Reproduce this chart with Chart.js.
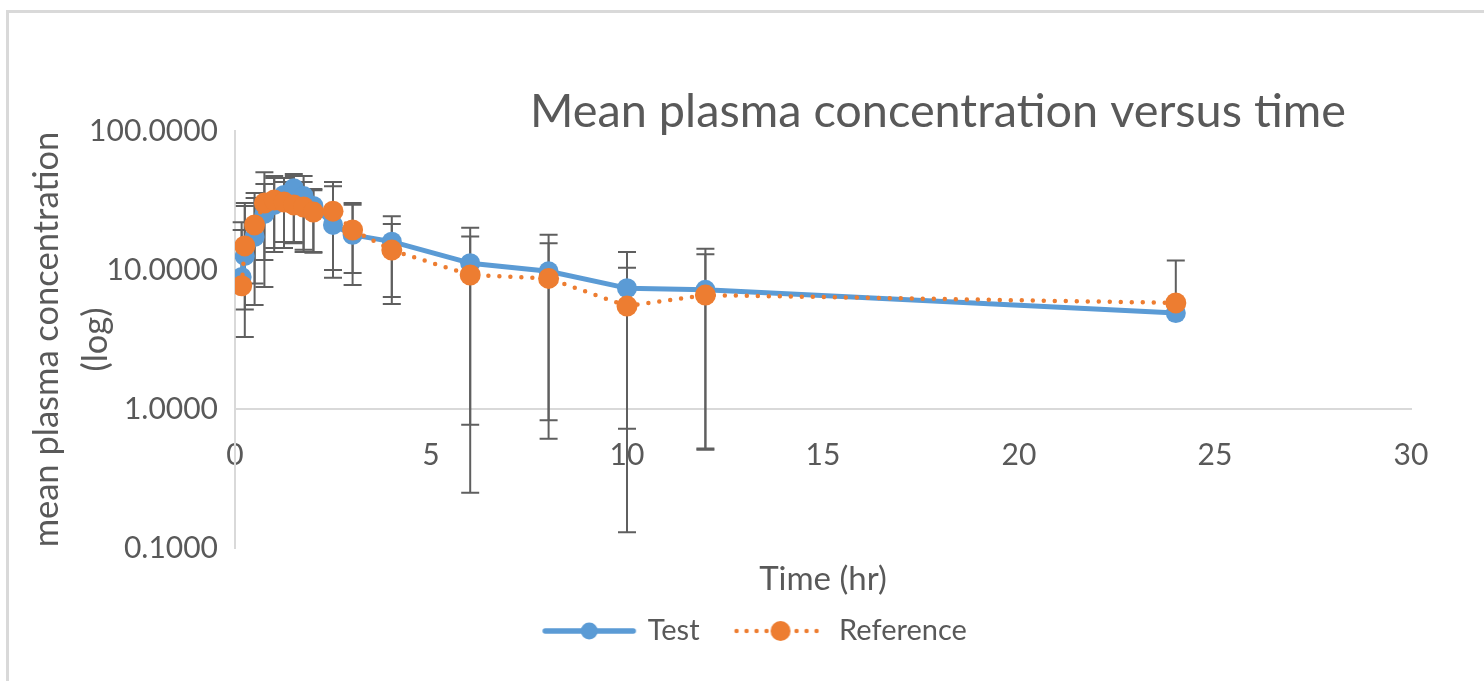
<!DOCTYPE html>
<html>
<head>
<meta charset="utf-8">
<title>Mean plasma concentration versus time</title>
<script src="https://cdn.jsdelivr.net/npm/chart.js@4.4.1/dist/chart.umd.min.js"></script>
<style>
  html, body { margin: 0; padding: 0; background: #fff; overflow: hidden; }
  .frame { position: absolute; left: 6px; top: 10px; width: 1600px; height: 800px;
           border-left: 3px solid #d9d9d9; border-top: 3px solid #d9d9d9; }
  .wrap { position: absolute; left: 0; top: 0; width: 1512px; height: 681px; }
</style>
</head>
<body>
<div class="frame"></div>
<div class="wrap"><canvas id="pk"></canvas></div>
<script>
// sampling times (hr)
const times = [0.17, 0.25, 0.5, 0.75, 1, 1.25, 1.5, 1.75, 2, 2.5, 3, 4, 6, 8, 10, 12, 24];

// Test formulation: mean and error bar ends
const testMean = [8.9, 12.6, 17.3, 25.3, 29.4, 34.7, 38.8, 34.0, 28.9, 21.1, 17.9, 16.0, 11.2, 9.8, 7.4, 7.2, 4.9];
const testHigh = [22.1, 30.3, 35.8, 50.5, 47.5, 45.9, 49.1, 47.5, 38.3, 43.0, 30.3, 24.4, 20.1, 17.9, 13.5, 14.2, null];
const testLow  = [null, 3.3, 5.6, 11.8, 14.4, 15.9, 15.9, 13.5, 13.5, 8.8, 7.8, 5.7, 0.25, 0.61, 0.13, 0.51, null];

// Reference formulation
const refMean = [7.7, 14.9, 21.1, 30.3, 31.9, 30.8, 29.4, 28.4, 26.1, 26.5, 19.4, 13.9, 9.2, 8.7, 5.5, 6.6, 5.8];
const refHigh = [19.4, 28.9, 33.0, 41.6, 45.9, 43.0, 47.5, 43.0, 37.5, 40.0, 29.5, 21.4, 17.4, 15.6, 10.4, 13.0, 11.7];
const refLow  = [null, 5.2, 8.0, 7.55, 13.5, 14.4, 15.6, 14.0, 13.3, 10.0, 9.5, 6.4, 0.77, 0.83, 0.72, 0.52, null];

const yTickValues = [0.1, 1, 10, 100];
const xTickStep = 5;

const BLUE = '#5b9bd5';
const ORANGE = '#ed7d31';
const GREY_TEXT = '#595959';
const AXIS_LINE = '#d9d9d9';
const FONT = 'Lato';

// little line+marker pictures for the legend
function legendSymbol(color, dotted) {
  const c = document.createElement('canvas');
  c.width = 96; c.height = 24;
  const g = c.getContext('2d');
  g.strokeStyle = color;
  g.fillStyle = color;
  g.lineCap = 'round';
  g.lineWidth = dotted ? 4.5 : 5.5;
  if (dotted) g.setLineDash([0, 10]);
  g.beginPath();
  g.moveTo(4, 12);
  g.lineTo(92, 12);
  g.stroke();
  g.beginPath();
  g.arc(48, 12, dotted ? 10 : 8.5, 0, Math.PI * 2);
  g.fill();
  return c;
}

const errorBars = {
  id: 'errorBars',
  beforeDatasetsDraw(chart) {
    const { ctx, scales } = chart;
    const x = scales.x, y = scales.y;
    const cap = 9;
    ctx.save();
    ctx.strokeStyle = '#5f5f5f';
    ctx.lineWidth = 2;
    chart.data.datasets.forEach(ds => {
      times.forEach((t, i) => {
        const px = x.getPixelForValue(t);
        const pm = y.getPixelForValue(ds.mean[i]);
        const hi = ds.errHigh[i], lo = ds.errLow[i];
        ctx.beginPath();
        if (hi != null) {
          const py = y.getPixelForValue(hi);
          ctx.moveTo(px, pm); ctx.lineTo(px, py);
          ctx.moveTo(px - cap, py); ctx.lineTo(px + cap, py);
        }
        if (lo != null) {
          const py = y.getPixelForValue(lo);
          ctx.moveTo(px, pm); ctx.lineTo(px, py);
          ctx.moveTo(px - cap, py); ctx.lineTo(px + cap, py);
        }
        ctx.stroke();
      });
    });
    ctx.restore();
  }
};

const chartTitle = {
  id: 'chartTitle',
  afterDraw(chart) {
    const ctx = chart.ctx;
    ctx.save();
    ctx.font = '46.8px ' + FONT;
    ctx.fillStyle = GREY_TEXT;
    ctx.textAlign = 'center';
    ctx.textBaseline = 'middle';
    ctx.fillText('Mean plasma concentration versus time', 938, 112);
    ctx.restore();
  }
};

const legendImages = [legendSymbol(BLUE, false), legendSymbol(ORANGE, true)];

new Chart(document.getElementById('pk'), {
  type: 'line',
  data: {
    datasets: [
      {
        label: 'Test',
        data: times.map((t, i) => ({ x: t, y: testMean[i] })),
        mean: testMean, errHigh: testHigh, errLow: testLow,
        borderColor: BLUE,
        backgroundColor: BLUE,
        borderWidth: 5,
        borderJoinStyle: 'round',
        pointRadius: 10,
        pointBackgroundColor: BLUE,
        pointBorderColor: BLUE,
        pointBorderWidth: 0,
        tension: 0,
        order: 2,
        xAxisID: 'x', yAxisID: 'y'
      },
      {
        label: 'Reference',
        data: times.map((t, i) => ({ x: t, y: refMean[i] })),
        mean: refMean, errHigh: refHigh, errLow: refLow,
        borderColor: ORANGE,
        backgroundColor: ORANGE,
        borderWidth: 4.5,
        borderDash: [0, 11],
        borderCapStyle: 'round',
        pointRadius: 10.5,
        pointBackgroundColor: ORANGE,
        pointBorderColor: ORANGE,
        pointBorderWidth: 0,
        tension: 0,
        order: 1,
        xAxisID: 'x', yAxisID: 'y'
      }
    ]
  },
  options: {
    responsive: true,
    maintainAspectRatio: false,
    animation: false,
    layout: { padding: { top: 131, left: 0, right: 0, bottom: 25.5 } },
    scales: {
      x: {
        type: 'linear',
        min: 0,
        max: 30,
        position: { y: 1 },
        grid: { display: false, drawTicks: false },
        border: { display: true, color: AXIS_LINE, width: 2 },
        ticks: {
          stepSize: xTickStep,
          padding: 28,
          color: GREY_TEXT,
          font: { family: FONT, size: 30 }
        }
      },
      x2: {
        type: 'linear',
        position: 'bottom',
        grid: { display: false, drawTicks: false },
        border: { display: false },
        ticks: { display: false },
        title: {
          display: true,
          text: 'Time (hr)',
          color: GREY_TEXT,
          font: { family: FONT, size: 33, lineHeight: 1.2 },
          padding: { top: 11.7, bottom: -19.8 }
        }
      },
      y: {
        type: 'logarithmic',
        position: 'left',
        min: 0.1,
        max: 100,
        grid: { display: false, drawTicks: false },
        border: { display: true, color: AXIS_LINE, width: 2 },
        afterBuildTicks: scale => { scale.ticks = yTickValues.map(v => ({ value: v })); },
        afterFit: scale => { scale.width = 235; },
        ticks: {
          padding: 17,
          color: GREY_TEXT,
          font: { family: FONT, size: 30 },
          callback: v => Number(v).toFixed(4)
        },
        title: {
          display: true,
          text: ['mean plasma concentration', '(log)'],
          color: GREY_TEXT,
          font: { family: FONT, size: 34.5, lineHeight: 1.42 },
          padding: { top: 22, bottom: 0 }
        }
      },
      y2: {
        type: 'linear',
        position: 'right',
        grid: { display: false, drawTicks: false },
        border: { display: false },
        ticks: { display: false },
        afterFit: scale => { scale.width = 101; }
      }
    },
    plugins: {
      title: { display: false },
      tooltip: { enabled: false },
      legend: {
        position: 'bottom',
        labels: {
          usePointStyle: true,
          pointStyleWidth: 88,
          padding: 37,
          color: GREY_TEXT,
          font: { family: FONT, size: 29 },
          generateLabels: chart => {
            const items = Chart.defaults.plugins.legend.labels.generateLabels(chart);
            items.sort((a, b) => a.datasetIndex - b.datasetIndex);
            items.forEach(it => { it.pointStyle = legendImages[it.datasetIndex]; });
            return items;
          }
        }
      }
    }
  },
  plugins: [errorBars, chartTitle]
});
</script>
</body>
</html>
